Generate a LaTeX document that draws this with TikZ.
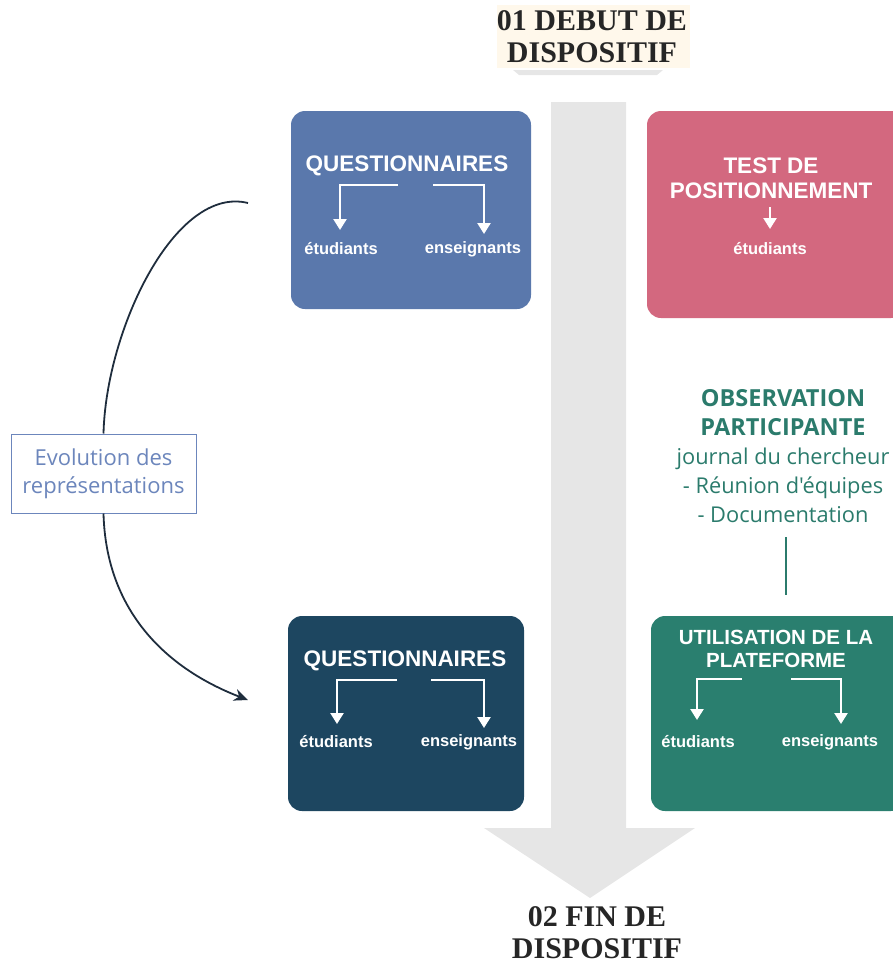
\documentclass[tikz,border=0pt]{standalone}
\usepackage{fontspec}
\setmainfont{Liberation Serif}
\newfontfamily\boxfont{Liberation Sans}
\newfontfamily\obsfont{Open Sans}
\usetikzlibrary{arrows.meta}
\definecolor{qblue}{HTML}{5A78AC}
\definecolor{tpink}{HTML}{D3687F}
\definecolor{qnavy}{HTML}{1D4660}
\definecolor{pteal}{HTML}{2A7F6F}
\definecolor{obsteal}{HTML}{2B7B6C}
\definecolor{evoblue}{HTML}{6C86BC}
\definecolor{flowgray}{HTML}{E6E6E6}
\definecolor{titlebg}{HTML}{FFF8EB}
\definecolor{curvec}{HTML}{1F2D3D}
\tikzset{
  card/.style={rounded corners=14pt, draw=none},
  cardtitle/.style={text=white, font=\boxfont\bfseries\fontsize{22.5}{25}\selectfont, align=center, inner sep=0pt},
  cardlabel/.style={text=white, font=\boxfont\bfseries\fontsize{16.5}{18}\selectfont, inner sep=0pt},
  wharrow/.style={draw=white, line width=2.4pt, -{Triangle[width=13pt,length=11pt]}},
  stagetitle/.style={font=\bfseries\fontsize{30}{32}\selectfont, text=black!85, align=center, inner sep=0pt},
  obstext/.style={font=\obsfont\fontsize{21.8}{29}\selectfont, text=obsteal, align=center, inner sep=0pt},
}
\begin{document}
\begin{tikzpicture}[x=1pt,y=-1pt]
\useasboundingbox (0,0) rectangle (893,967);
% big gray flow arrow
\fill[flowgray] (513,70) -- (663,70) -- (657,75) -- (519,75) -- cycle;
\fill[flowgray] (551,102) -- (626,102) -- (626,828) -- (695,828) -- (590,898) -- (484,828) -- (551,828) -- cycle;
% titles
\fill[titlebg] (497,5) rectangle (690,68);
\node[stagetitle] (debut) at (592,37) {01 DEBUT DE\\DISPOSITIF};
\node[stagetitle] (fin) at (597,933) {02 FIN DE\\DISPOSITIF};
% box 1 questionnaires
\fill[qblue, card] (291,111) rectangle (531,309);
\node[cardtitle] (q1) at (407,166) {QUESTIONNAIRES};
\node[cardlabel] (q1s) at (341,249) {étudiants};
\node[cardlabel] (q1e) at (473,249) {enseignants};
\coordinate (q1l) at (398,185);
\coordinate (q1r) at (433,185);
\draw[wharrow] (q1l) -- (340,185) -- (340,230);
\draw[wharrow] (q1r) -- (484,185) -- (484,234);
% box 2 test
\fill[tpink, card] (647,111) rectangle (905,318);
\node[cardtitle] (tp) at (771,178) {TEST DE\\POSITIONNEMENT};
\node[cardlabel] (tps) at (770,249) {étudiants};
\coordinate (tpa) at (770,207);
\draw[wharrow] (tpa) -- (770,229);
% observation
\node[obstext] (obs) at (783,456) {\textbf{\fontsize{23.5}{29}\selectfont OBSERVATION}\\\textbf{\fontsize{23.5}{29}\selectfont PARTICIPANTE}\\journal du chercheur\\- Réunion d'équipes\\- Documentation};
\coordinate (obsb) at (786,595);
\draw[obsteal, line width=2pt] (786,537) -- (obsb);
% box 3 questionnaires
\fill[qnavy, card] (288,616) rectangle (524,811);
\node[cardtitle] (q2) at (405,661) {QUESTIONNAIRES};
\node[cardlabel] (q2s) at (336,742) {étudiants};
\node[cardlabel] (q2e) at (469,742) {enseignants};
\coordinate (q2l) at (397,680);
\coordinate (q2r) at (431,680);
\draw[wharrow] (q2l) -- (337,680) -- (337,724);
\draw[wharrow] (q2r) -- (484,680) -- (484,728);
% box 4 plateforme
\fill[pteal, card] (651,616) rectangle (905,811);
\node[cardtitle, font=\boxfont\bfseries\fontsize{20.5}{23}\selectfont] (pl) at (776,649) {UTILISATION DE LA\\PLATEFORME};
\node[cardlabel] (pls) at (698,742) {étudiants};
\node[cardlabel] (ple) at (830,742) {enseignants};
\coordinate (pll) at (742,679);
\coordinate (plr) at (791,679);
\draw[wharrow] (pll) -- (697,679) -- (697,720);
\draw[wharrow] (plr) -- (841,679) -- (841,724);
% evolution
\node[draw=evoblue, line width=1pt, fill=white, text=evoblue, font=\obsfont\fontsize{22}{28}\selectfont, align=center, minimum width=185pt, minimum height=79pt, inner sep=0pt] (evo) at (103.5,473.5) {Evolution des\\représentations};
\coordinate (cstart) at (248,203);
\coordinate (cend) at (248,700);
\draw[curvec, line width=1.8pt] (cstart) .. controls (175,185) and (106,330) .. (evo.north);
\draw[curvec, line width=1.8pt, -{Stealth[length=14pt,width=12pt]}] (evo.south) .. controls (106,610) and (165,668) .. (cend);
\end{tikzpicture}
\end{document}
